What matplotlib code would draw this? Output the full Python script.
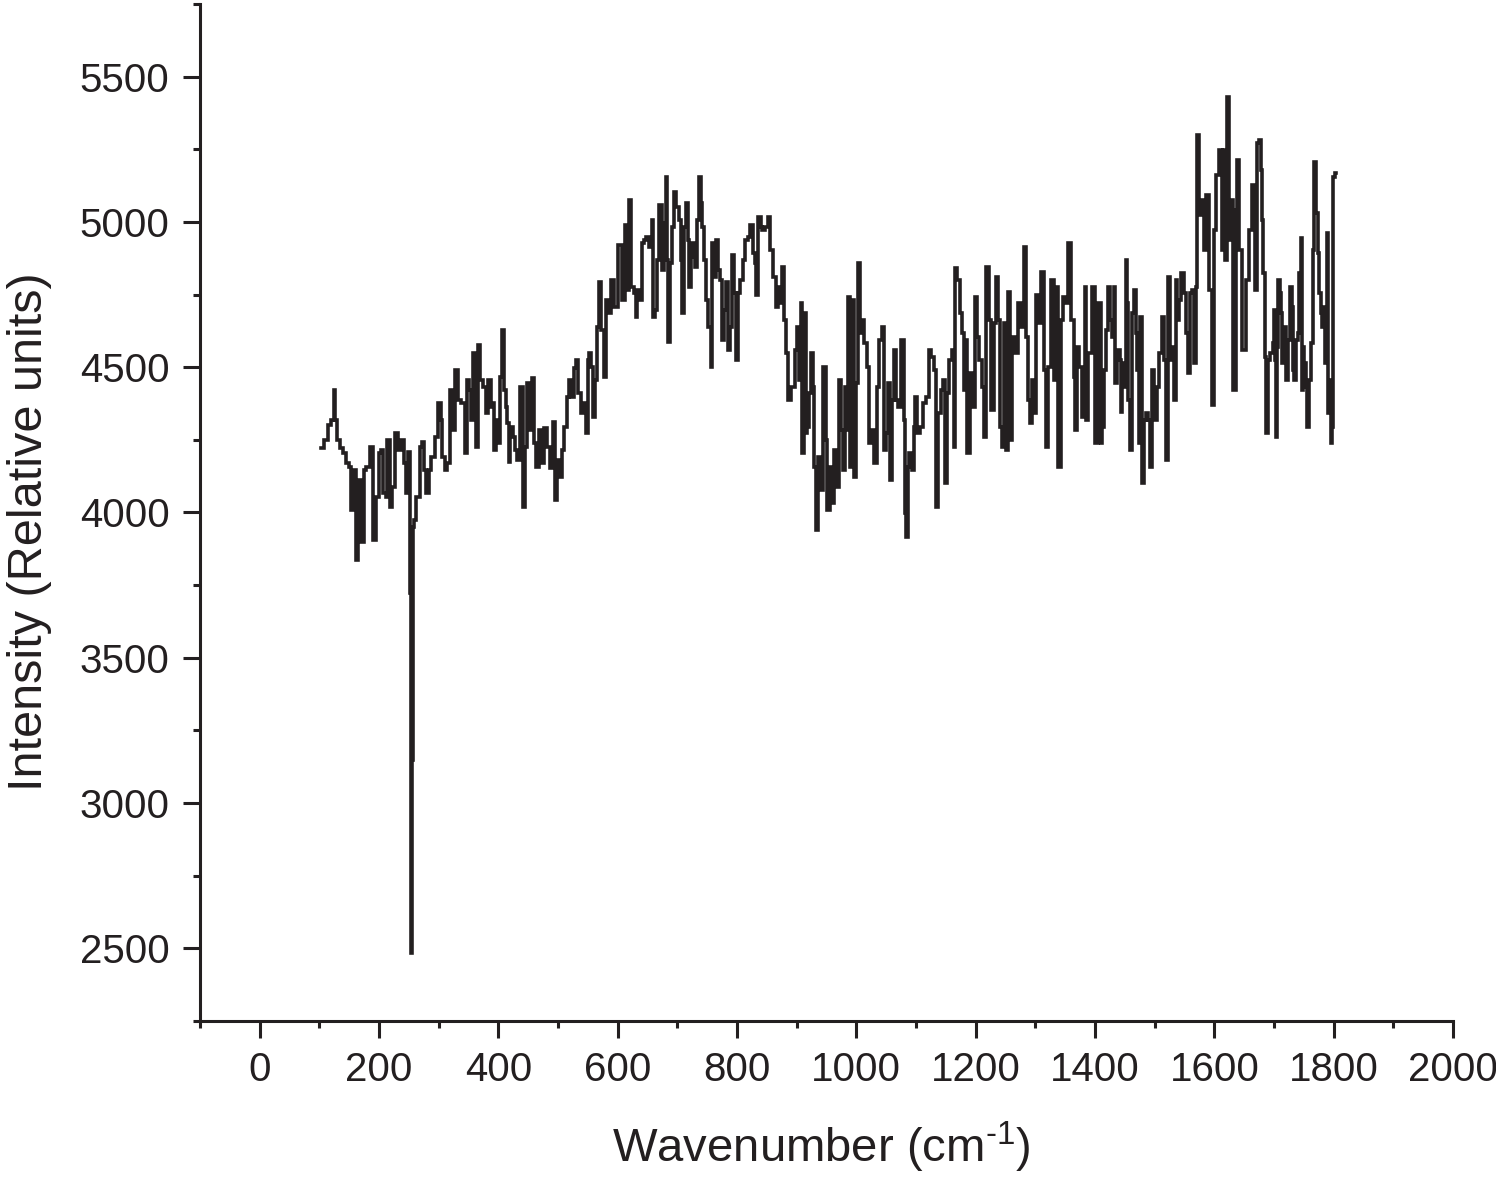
import matplotlib
matplotlib.use("Agg")
import matplotlib.pyplot as plt
from matplotlib.ticker import MultipleLocator

plt.rcParams['font.family'] = ['Liberation Sans', 'DejaVu Sans']
plt.rcParams['mathtext.fontset'] = 'custom'
plt.rcParams['mathtext.rm'] = 'Liberation Sans'
plt.rcParams['mathtext.it'] = 'Liberation Sans'

wavenumber = [
    103, 111, 117, 122, 126, 127, 131, 137, 142, 148, 153, 154, 159, 163, 168, 173, 176, 181, 188, 193,
    198, 201, 205, 210, 213, 215, 221, 223, 230, 235, 240, 243, 246, 251, 252, 253, 254, 256, 258, 260,
    265, 272, 273, 277, 282, 285, 290, 297, 302, 305, 307, 313, 315, 322, 324, 330, 335, 340, 347, 349,
    352, 355, 360, 364, 367, 372, 377, 380, 386, 389, 391, 394, 399, 402, 405, 408, 411, 414, 416, 418,
    422, 427, 430, 434, 439, 443, 446, 450, 454, 458, 461, 466, 471, 474, 479, 483, 489, 493, 496, 500,
    505, 508, 513, 517, 520, 524, 528, 532, 536, 540, 545, 548, 551, 554, 558, 560, 564, 567, 570, 575,
    578, 582, 586, 590, 598, 604, 609, 614, 617, 622, 624, 629, 632, 634, 639, 642, 645, 650, 655, 659,
    660, 664, 668, 672, 676, 679, 682, 684, 686, 690, 693, 696, 701, 704, 707, 709, 713, 716, 718, 721,
    724, 726, 732, 734, 738, 741, 743, 746, 750, 754, 758, 759, 763, 766, 769, 773, 776, 780, 783, 786,
    791, 793, 798, 800, 803, 808, 811, 816, 820, 825, 828, 832, 833, 837, 842, 843, 850, 853, 858, 862,
    867, 870, 875, 877, 880, 883, 888, 894, 900, 902, 905, 908, 910, 914, 917, 919, 922, 927, 929, 930,
    934, 936, 941, 947, 950, 952, 958, 961, 964, 969, 972, 975, 979, 982, 984, 988, 991, 994, 998, 1001,
    1005, 1007, 1011, 1015, 1019, 1023, 1028, 1032, 1036, 1041, 1044, 1048, 1051, 1055, 1058, 1061, 1065, 1068, 1070, 1078,
    1081, 1083, 1085, 1087, 1091, 1095, 1098, 1100, 1103, 1109, 1115, 1119, 1123, 1128, 1132, 1135, 1139, 1144, 1147, 1150,
    1154, 1158, 1162, 1164, 1167, 1171, 1175, 1179, 1182, 1185, 1187, 1194, 1196, 1200, 1204, 1208, 1213, 1215, 1219, 1224,
    1228, 1232, 1236, 1239, 1243, 1246, 1250, 1252, 1256, 1260, 1263, 1268, 1274, 1279, 1283, 1286, 1290, 1292, 1296, 1299,
    1303, 1306, 1313, 1316, 1319, 1324, 1329, 1333, 1336, 1341, 1344, 1350, 1353, 1358, 1363, 1365, 1368, 1371, 1376, 1380,
    1385, 1386, 1391, 1398, 1403, 1408, 1411, 1413, 1417, 1420, 1423, 1427, 1430, 1433, 1435, 1439, 1443, 1445, 1447, 1450,
    1453, 1455, 1457, 1460, 1463, 1467, 1470, 1472, 1474, 1478, 1481, 1484, 1486, 1491, 1493, 1497, 1500, 1506, 1510, 1513,
    1517, 1520, 1523, 1527, 1530, 1534, 1537, 1539, 1542, 1547, 1551, 1554, 1557, 1561, 1564, 1567, 1570, 1573, 1576, 1581,
    1584, 1589, 1594, 1598, 1601, 1606, 1611, 1614, 1616, 1619, 1623, 1626, 1629, 1634, 1638, 1639, 1644, 1650, 1655, 1660,
    1665, 1670, 1673, 1676, 1679, 1681, 1683, 1686, 1688, 1691, 1696, 1699, 1701, 1703, 1705, 1706, 1708, 1711, 1713, 1714,
    1718, 1722, 1726, 1728, 1731, 1732, 1735, 1738, 1741, 1744, 1745, 1747, 1749, 1752, 1755, 1757, 1760, 1763, 1766, 1769,
    1772, 1774, 1777, 1780, 1781, 1784, 1787, 1789, 1791, 1794, 1796, 1798, 1799, 1804,
]

intensity = [
    4222, 4250, 4301, 4318, 4422, 4318, 4250, 4222, 4205, 4170, 4157, 4008, 4146, 3836, 4112, 3898, 4146, 4157, 4226, 3905,
    4053, 4205, 4215, 4067, 4053, 4250, 4019, 4088, 4274, 4215, 4250, 4170, 4067, 4208, 4043, 3722, 2483, 3147, 3950, 3974,
    4053, 4226, 4243, 4146, 4067, 4146, 4191, 4260, 4377, 4318, 4191, 4146, 4170, 4422, 4284, 4490, 4387, 4377, 4205, 4456,
    4422, 4318, 4549, 4226, 4577, 4456, 4432, 4343, 4456, 4363, 4377, 4215, 4318, 4239, 4467, 4628, 4422, 4363, 4308, 4174,
    4294, 4260, 4215, 4181, 4432, 4019, 4226, 4446, 4284, 4463, 4239, 4157, 4284, 4170, 4291, 4226, 4153, 4312, 4043, 4181,
    4122, 4215, 4294, 4398, 4456, 4398, 4498, 4525, 4412, 4343, 4377, 4274, 4525, 4549, 4501, 4329, 4456, 4639, 4794, 4628,
    4467, 4732, 4687, 4801, 4708, 4921, 4732, 4990, 4766, 5076, 4777, 4756, 4673, 4766, 4732, 4928, 4939, 4949, 4914, 5007,
    4673, 4697, 4870, 5059, 4835, 4997, 5156, 4870, 4587, 4859, 4983, 5104, 5052, 5007, 4870, 4687, 4983, 5066, 4939, 4777,
    4880, 4928, 4846, 5007, 5156, 5066, 4983, 4870, 4732, 4639, 4501, 4928, 4811, 4939, 4835, 4801, 4594, 4697, 4794, 4560,
    4639, 4887, 4756, 4525, 4756, 4801, 4870, 4939, 4949, 4990, 4894, 4859, 4749, 5018, 4983, 4973, 4983, 5018, 4904, 4811,
    4708, 4777, 4722, 4846, 4663, 4549, 4387, 4432, 4560, 4639, 4456, 4722, 4205, 4687, 4274, 4294, 4412, 4549, 4432, 4157,
    3940, 4191, 4077, 4501, 4250, 4008, 4157, 4033, 4215, 4088, 4456, 4284, 4146, 4432, 4284, 4742, 4157, 4732, 4122, 4446,
    4859, 4618, 4663, 4584, 4501, 4239, 4284, 4170, 4432, 4594, 4639, 4215, 4274, 4446, 4112, 4387, 4560, 4387, 4363, 4594,
    4318, 3998, 3915, 4157, 4205, 4146, 4294, 4398, 4274, 4294, 4377, 4398, 4560, 4535, 4491, 4019, 4343, 4422, 4456, 4101,
    4412, 4525, 4560, 4226, 4842, 4801, 4687, 4618, 4422, 4594, 4205, 4480, 4363, 4742, 4604, 4525, 4432, 4260, 4846, 4663,
    4353, 4653, 4811, 4663, 4294, 4226, 4653, 4215, 4759, 4250, 4604, 4549, 4722, 4639, 4914, 4604, 4387, 4308, 4456, 4343,
    4749, 4653, 4828, 4491, 4226, 4501, 4801, 4456, 4777, 4157, 4663, 4742, 4722, 4928, 4663, 4467, 4284, 4570, 4501, 4329,
    4777, 4318, 4549, 4777, 4239, 4722, 4239, 4294, 4491, 4628, 4777, 4663, 4604, 4777, 4446, 4560, 4525, 4346, 4515, 4432,
    4870, 4722, 4387, 4215, 4687, 4766, 4618, 4491, 4239, 4673, 4101, 4318, 4343, 4318, 4157, 4491, 4318, 4432, 4549, 4673,
    4525, 4181, 4811, 4525, 4570, 4387, 4801, 4663, 4732, 4825, 4756, 4618, 4480, 4756, 4766, 4515, 4777, 5300, 5025, 5076,
    4904, 5093, 4766, 4370, 4973, 5162, 5249, 4904, 5249, 4870, 5431, 4939, 5076, 4422, 5042, 5214, 4904, 4560, 4801, 4973,
    5128, 4766, 5273, 5283, 5180, 5007, 4825, 4535, 4274, 4525, 4549, 4584, 4697, 4525, 4260, 4570, 4801, 4756, 4687, 4515,
    4639, 4456, 4594, 4777, 4708, 4491, 4456, 4594, 4618, 4825, 4946, 4422, 4570, 4515, 4432, 4294, 4456, 4584, 4904, 5207,
    5031, 4894, 4756, 4687, 4639, 4708, 4515, 4963, 4343, 4456, 4239, 4294, 5156, 5170,
]

x_ticks = [0, 200, 400, 600, 800, 1000, 1200, 1400, 1600, 1800, 2000]
y_ticks = [2500, 3000, 3500, 4000, 4500, 5000, 5500]

ink = '#231f20'

fig = plt.figure(figsize=(14.96, 11.87), dpi=100)
ax = fig.add_axes([0.1337, 0.1399, 0.9713 - 0.1337, 0.9966 - 0.1399])

ax.plot(wavenumber, intensity, color=ink, linewidth=2.6, drawstyle='steps-mid',
        solid_joinstyle='miter')

ax.set_xlim(-100, 2000)
ax.set_ylim(2250, 5750)
ax.set_xticks(x_ticks)
ax.set_yticks(y_ticks)
ax.xaxis.set_minor_locator(MultipleLocator(100))
ax.yaxis.set_minor_locator(MultipleLocator(250))

for s in ['top', 'right']:
    ax.spines[s].set_visible(False)
for s in ['left', 'bottom']:
    ax.spines[s].set_linewidth(2.2)
    ax.spines[s].set_color(ink)

ax.tick_params(which='major', direction='out', length=12, width=2.2, color=ink,
               labelsize=29, labelcolor=ink, pad=10)
ax.tick_params(which='minor', direction='out', length=5, width=2.2, color=ink)

ax.set_xlabel(r'Wavenumber (cm$^{\text{-1}}$)', fontsize=34, color=ink)
ax.set_ylabel('Intensity (Relative units)', fontsize=35, color=ink)
ax.xaxis.set_label_coords(0.496, -0.097)
ax.yaxis.set_label_coords(-0.118, 0.481)

fig.savefig('out.png', dpi=100)
